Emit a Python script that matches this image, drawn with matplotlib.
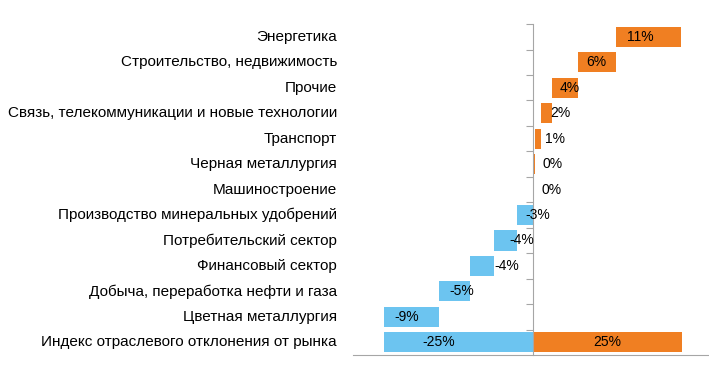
import matplotlib
matplotlib.use('Agg')
import matplotlib.pyplot as plt
import numpy as np

# categories from top to bottom, deviation in %
categories = ['Энергетика', 'Строительство, недвижимость', 'Прочие',
              'Связь, телекоммуникации и новые технологии', 'Транспорт',
              'Черная металлургия', 'Машиностроение',
              'Производство минеральных удобрений', 'Потребительский сектор',
              'Финансовый сектор', 'Добыча, переработка нефти и газа',
              'Цветная металлургия']
values = [11.0, 6.3, 4.4, 1.8, 0.95, 0.45, 0.0,
          -2.7, -3.9, -4.0, -5.1, -9.3]
index_label = 'Индекс отраслевого отклонения от рынка'
index_neg = -25.0
index_pos = 25.0

orange = '#F07F22'
blue = '#6CC4F0'
gray = '#A6A6A6'

# label offsets in pixels from bar centre (Excel had them dragged around)
label_dx = [-8, 0, 5, 14, 17, 18, 19, 13, 17, 25, 7, -5]

plt.rcParams['font.family'] = ['Liberation Sans', 'DejaVu Sans']

fig = plt.figure(figsize=(7.09, 3.71), dpi=100)
ax = fig.add_axes([0.4979, 0.043, 0.5021, 0.892])

n = len(categories)
# bottom row is the index, rows above go from bottom (last category) to top
ys = np.arange(n, 0, -1)

# waterfall bases
pos_run = 0.0
neg_run = index_neg
lefts = [0.0] * n
for i in range(n - 1, -1, -1):
    v = values[i]
    if v >= 0:
        lefts[i] = pos_run
        pos_run += v
    else:
        lefts[i] = neg_run
        neg_run += -v

h = 0.79
for i, v in enumerate(values):
    col = orange if v >= 0 else blue
    ax.barh(ys[i], abs(v), left=lefts[i], height=h, color=col)
    cx = lefts[i] + abs(v) / 2
    ax.annotate(f'{v:.0f}%', (cx, ys[i]), xytext=(label_dx[i], 0),
                textcoords='offset pixels', ha='center', va='center',
                fontsize=10)

ax.barh(0, index_neg, height=h, color=blue)
ax.barh(0, index_pos, height=h, color=orange)
ax.annotate(f'{index_neg:.0f}%', (index_neg / 2, 0), xytext=(-20, 0),
            textcoords='offset pixels', ha='center', va='center', fontsize=10)
ax.annotate(f'{index_pos:.0f}%', (index_pos / 2, 0), xytext=(0, 0),
            textcoords='offset pixels', ha='center', va='center', fontsize=10)

# category names on the left of the plot area
trans = ax.get_yaxis_transform()
for y, name in zip(list(ys) + [0], categories + [index_label]):
    ax.annotate(name, (0, y), xycoords=trans, xytext=(-16, 0),
                textcoords='offset pixels', ha='right', va='center',
                fontsize=11, annotation_clip=False)

ax.set_xlim(-30.2, 29.6)
ax.set_ylim(-0.5, n + 0.5)

ax.spines['left'].set_position(('data', 0))
ax.spines['left'].set_color(gray)
ax.spines['bottom'].set_color(gray)
ax.spines['top'].set_visible(False)
ax.spines['right'].set_visible(False)
ax.set_yticks(np.arange(0.5, n + 1, 1.0))
ax.set_yticklabels([])
ax.tick_params(axis='y', direction='out', length=5, color=gray)
ax.set_xticks([])

plt.savefig('out.png', dpi=100)
